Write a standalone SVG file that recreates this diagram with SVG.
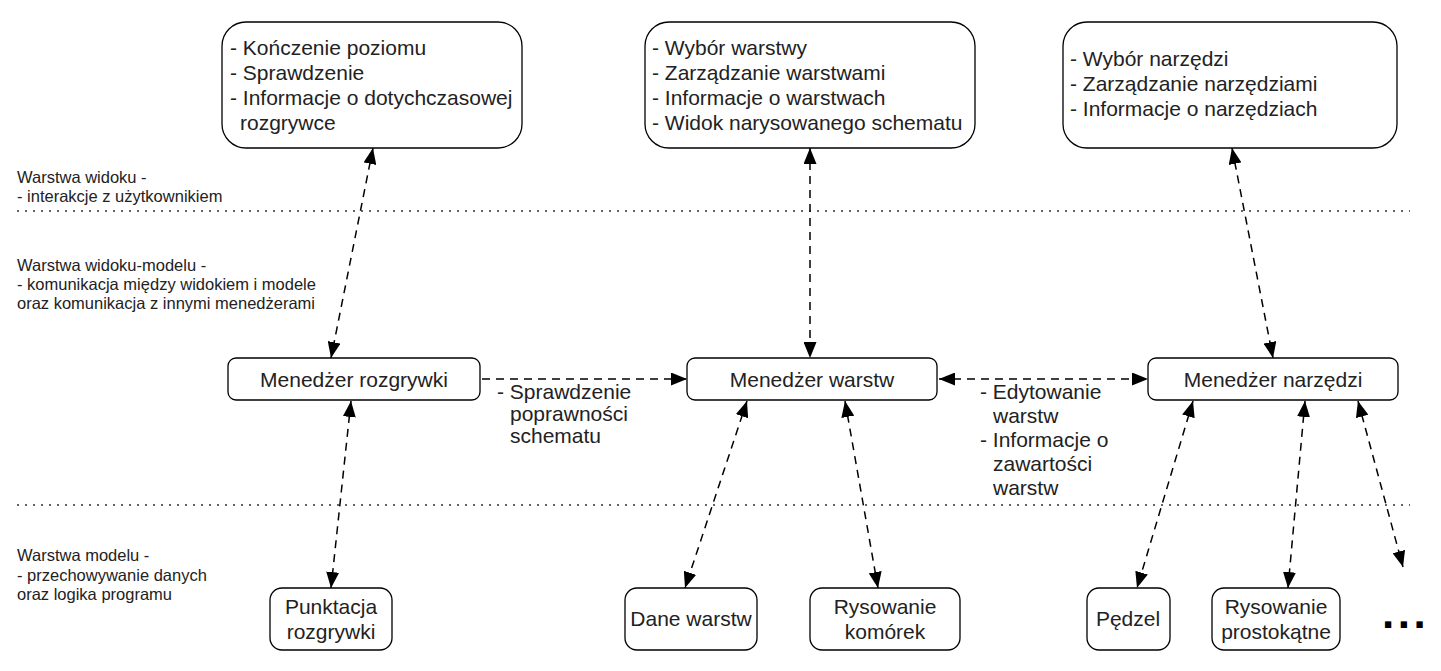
<svg xmlns="http://www.w3.org/2000/svg" width="1441" height="671" viewBox="0 0 1441 671">
<style>
text{font-family:"Liberation Sans",Arial,sans-serif;fill:#222}
.b{font-size:21px}
.s{font-size:16.5px}
.c{text-anchor:middle}
.box{fill:#fff;stroke:#000;stroke-width:1.3}
.sep{stroke:#333;stroke-width:1.5;stroke-dasharray:2 6}
.con{fill:none;stroke:#000;stroke-width:1.5;stroke-dasharray:8 6}
</style>
<defs>
<marker id="ah" viewBox="0 0 16 13" refX="16" refY="6.5" markerWidth="16" markerHeight="13" markerUnits="userSpaceOnUse" orient="auto-start-reverse">
<path d="M0,0 L16,6.5 L0,13 z" fill="#000"/>
</marker>
</defs>
<rect width="1441" height="671" fill="#fff"/>

<g id="layers">
<line class="sep" x1="17" y1="211" x2="1410" y2="211"/>
<line class="sep" x1="17" y1="505" x2="1410" y2="505"/>
<text class="s" x="17" y="183">Warstwa widoku -</text>
<text class="s" x="17" y="202">- interakcje z użytkownikiem</text>
<text class="s" x="17" y="271">Warstwa widoku-modelu -</text>
<text class="s" x="17" y="290">- komunikacja między widokiem i modele</text>
<text class="s" x="17" y="309">oraz komunikacja z innymi menedżerami</text>
<text class="s" x="17" y="561">Warstwa modelu -</text>
<text class="s" x="17" y="581">- przechowywanie danych</text>
<text class="s" x="17" y="600">oraz logika programu</text>
</g>

<g id="connectors">
<line class="con" x1="373" y1="148" x2="331" y2="358" marker-start="url(#ah)" marker-end="url(#ah)"/>
<line class="con" x1="810" y1="148" x2="810" y2="358" marker-start="url(#ah)" marker-end="url(#ah)"/>
<line class="con" x1="1232" y1="148" x2="1273" y2="358" marker-start="url(#ah)" marker-end="url(#ah)"/>
<line class="con" x1="482" y1="379" x2="687" y2="379" marker-end="url(#ah)"/>
<line class="con" x1="939" y1="379" x2="1148" y2="379" marker-start="url(#ah)" marker-end="url(#ah)"/>
<line class="con" x1="351" y1="401" x2="331" y2="588" marker-start="url(#ah)" marker-end="url(#ah)"/>
<line class="con" x1="747" y1="401" x2="685" y2="588" marker-start="url(#ah)" marker-end="url(#ah)"/>
<line class="con" x1="845" y1="401" x2="878" y2="588" marker-start="url(#ah)" marker-end="url(#ah)"/>
<line class="con" x1="1193" y1="401" x2="1137" y2="588" marker-start="url(#ah)" marker-end="url(#ah)"/>
<line class="con" x1="1305" y1="401" x2="1288" y2="588" marker-start="url(#ah)" marker-end="url(#ah)"/>
<line class="con" x1="1358" y1="401" x2="1403" y2="567" marker-start="url(#ah)" marker-end="url(#ah)"/>
<text class="b" x="497" y="399">- Sprawdzenie</text>
<text class="b" x="510" y="421">poprawności</text>
<text class="b" x="510" y="443">schematu</text>
<text class="b" x="980" y="399">- Edytowanie</text>
<text class="b" x="993" y="423">warstw</text>
<text class="b" x="980" y="447">- Informacje o</text>
<text class="b" x="993" y="471">zawartości</text>
<text class="b" x="993" y="495">warstw</text>
</g>

<g id="view-game">
<rect class="box" x="222" y="22" width="300" height="126" rx="24"/>
<text class="b" x="230" y="55">- Kończenie poziomu</text>
<text class="b" x="230" y="80">- Sprawdzenie</text>
<text class="b" x="230" y="105">- Informacje o dotychczasowej</text>
<text class="b" x="240" y="130">rozgrywce</text>
</g>
<g id="view-layers">
<rect class="box" x="645" y="22" width="330" height="126" rx="24"/>
<text class="b" x="652" y="55">- Wybór warstwy</text>
<text class="b" x="652" y="80">- Zarządzanie warstwami</text>
<text class="b" x="652" y="105">- Informacje o warstwach</text>
<text class="b" x="652" y="130">- Widok narysowanego schematu</text>
</g>
<g id="view-tools">
<rect class="box" x="1063" y="22" width="334" height="126" rx="24"/>
<text class="b" x="1070" y="66">- Wybór narzędzi</text>
<text class="b" x="1070" y="91">- Zarządzanie narzędziami</text>
<text class="b" x="1070" y="116">- Informacje o narzędziach</text>
</g>

<g id="mgr-game">
<rect class="box" x="228" y="358" width="252" height="42" rx="8"/>
<text class="b c" x="354" y="387">Menedżer rozgrywki</text>
</g>
<g id="mgr-layers">
<rect class="box" x="687" y="358" width="250" height="42" rx="8"/>
<text class="b c" x="812" y="387">Menedżer warstw</text>
</g>
<g id="mgr-tools">
<rect class="box" x="1148" y="358" width="250" height="42" rx="8"/>
<text class="b c" x="1273" y="387">Menedżer narzędzi</text>
</g>

<g id="score">
<rect class="box" x="270" y="588" width="122" height="62" rx="12"/>
<text class="b c" x="331" y="614">Punktacja</text>
<text class="b c" x="331" y="639">rozgrywki</text>
</g>
<g id="layer-data">
<rect class="box" x="625" y="588" width="132" height="62" rx="12"/>
<text class="b c" x="691" y="626">Dane warstw</text>
</g>
<g id="cell-draw">
<rect class="box" x="810" y="588" width="150" height="62" rx="12"/>
<text class="b c" x="885" y="614">Rysowanie</text>
<text class="b c" x="885" y="639">komórek</text>
</g>
<g id="brush">
<rect class="box" x="1087" y="588" width="83" height="62" rx="12"/>
<text class="b c" x="1128" y="626">Pędzel</text>
</g>
<g id="rect-draw">
<rect class="box" x="1212" y="588" width="128" height="62" rx="12"/>
<text class="b c" x="1276" y="614">Rysowanie</text>
<text class="b c" x="1276" y="639">prostokątne</text>
</g>
<g id="more">
<text x="1382" y="628" style="font-size:44px;font-weight:bold;letter-spacing:3.5px;fill:#000">...</text>
</g>
</svg>
